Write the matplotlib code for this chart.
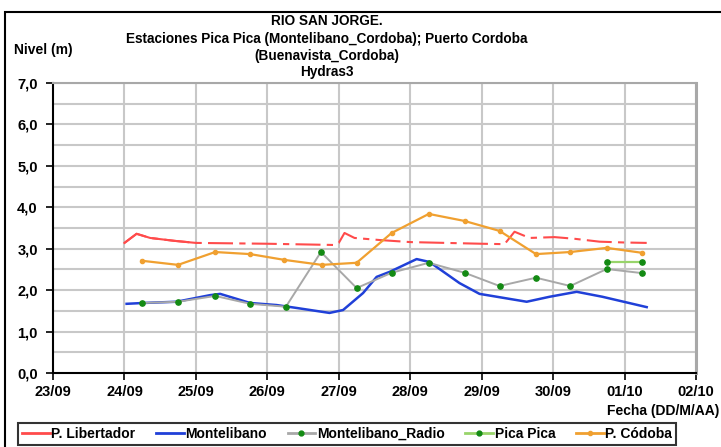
import numpy as np
from matplotlib import pyplot as plt
from matplotlib.lines import Line2D
from matplotlib.patches import Rectangle

plt.rcParams['font.family'] = ['Liberation Sans', 'DejaVu Sans']
plt.rcParams['font.weight'] = 'bold'

# dias desde 23/09
fechas = ["23/09", "24/09", "25/09", "26/09", "27/09", "28/09", "29/09", "30/09", "01/10", "02/10"]

# P. Libertador (rojo)
lib_x = [1.00, 1.17, 1.36, 1.70, 2.00, 3.00, 3.94, 4.00, 4.08, 4.22, 4.57, 5.00, 6.00, 6.32, 6.46, 6.67, 7.02, 7.30, 7.65, 8.00, 8.31]
lib_y = [3.14, 3.36, 3.26, 3.19, 3.14, 3.12, 3.09, 3.14, 3.38, 3.26, 3.21, 3.16, 3.12, 3.11, 3.41, 3.26, 3.28, 3.24, 3.17, 3.15, 3.14]

# Montelibano (azul)
mon_x = [1.03, 1.26, 1.73, 2.20, 2.34, 2.76, 3.13, 3.41, 3.87, 4.06, 4.34, 4.53, 4.71, 5.09, 5.27, 5.69, 5.97, 6.63, 6.95, 7.33, 7.69, 8.31]
mon_y = [1.67, 1.69, 1.72, 1.88, 1.91, 1.69, 1.64, 1.57, 1.45, 1.52, 1.93, 2.32, 2.44, 2.75, 2.68, 2.17, 1.91, 1.72, 1.84, 1.96, 1.84, 1.59]

# Montelibano_Radio (gris)
rad_x = [1.24, 1.75, 2.27, 2.76, 3.26, 3.75, 4.25, 4.74, 5.26, 5.76, 6.25, 6.76, 7.24, 7.75, 8.25]
rad_y = [1.69, 1.72, 1.86, 1.67, 1.60, 2.92, 2.05, 2.42, 2.66, 2.42, 2.10, 2.30, 2.10, 2.51, 2.41]

# Pica Pica (verde)
pica_x = [7.75, 8.25]
pica_y = [2.68, 2.68]

# P. Cordoba (naranja)
cor_x = [1.24, 1.75, 2.27, 2.76, 3.24, 3.76, 4.25, 4.74, 5.26, 5.76, 6.25, 6.76, 7.24, 7.75, 8.25]
cor_y = [2.71, 2.61, 2.92, 2.87, 2.73, 2.61, 2.66, 3.38, 3.84, 3.67, 3.43, 2.87, 2.92, 3.02, 2.90]

rojo = "#ff4b4b"
azul = "#2040d8"
gris = "#a8a8a8"
verde = "#138a13"
verde_cl = "#98d46a"
naranja = "#f0a030"

fig = plt.figure(figsize=(7.21, 4.47), dpi=100)
ax = fig.add_axes([53/721, 1-373/447, 643/721, 290/447])

# grilla
for d in range(1, 10):
    ax.axvline(d, color="#c8c8c8", lw=1.5, zorder=0)
for v in np.arange(0.5, 7.01, 0.5):
    ax.axhline(v, color="#c8c8c8", lw=1.5, zorder=0)

lx = np.array(lib_x)
ly = np.array(lib_y)
ax.plot(lx, ly, color=rojo, lw=1.5, ls=(0, (12, 3, 3, 3)), zorder=3)
m = lx <= 2.0
ax.plot(lx[m], ly[m], color=rojo, lw=1.5, zorder=3)
ax.plot(mon_x, mon_y, color=azul, lw=1.8, zorder=4)
ax.plot(rad_x, rad_y, color=gris, lw=1.4, marker="o", ms=3.8, mfc=verde, mec=verde, zorder=4)
ax.plot(pica_x, pica_y, color=verde_cl, lw=1.6, marker="o", ms=3.8, mfc=verde, mec=verde, zorder=4)
ax.plot(cor_x, cor_y, color=naranja, lw=1.6, marker="o", ms=3, mfc=naranja, mec=naranja, zorder=4)

ax.set_xlim(0, 9)
ax.set_ylim(0, 7)
ax.set_xticks(range(10))
ax.set_xticklabels(fechas)
ax.set_yticks(range(8))
ax.set_yticklabels([f"{v},0" for v in range(8)])
ax.tick_params(axis="both", labelsize=10.5, length=5, width=1.2, direction="out")
ax.tick_params(axis="y", pad=6)
ax.tick_params(axis="x", pad=4)
for t in ax.get_xticklabels() + ax.get_yticklabels():
    t.set_fontweight("bold")
ax.spines["left"].set_linewidth(1.5)
ax.spines["bottom"].set_linewidth(1.5)
ax.spines["top"].set_color("#a8a8a8")
ax.spines["top"].set_linewidth(1.5)
ax.spines["right"].set_color("#a8a8a8")
ax.spines["right"].set_linewidth(2.2)

# titulos
cx = 327/721
fs_t = 9.8
fig.text(cx, 1-21/447, "RIO SAN JORGE.", ha="center", va="center", fontsize=fs_t, fontweight="bold")
fig.text(cx, 1-39/447, "Estaciones Pica Pica (Montelibano_Cordoba); Puerto Cordoba", ha="center", va="center", fontsize=fs_t, fontweight="bold")
fig.text(cx, 1-56/447, "(Buenavista_Cordoba)", ha="center", va="center", fontsize=fs_t, fontweight="bold")
fig.text(cx, 1-72/447, "Hydras3", ha="center", va="center", fontsize=fs_t, fontweight="bold")
fig.text(14/721, 1-50/447, "Nivel (m)", ha="left", va="center", fontsize=10, fontweight="bold")
fig.text(719/721, 1-411/447, "Fecha (DD/M/AA)", ha="right", va="center", fontsize=10, fontweight="bold")

# marco exterior
fig.patches.append(Rectangle((5/721, -0.1), 1.2, 1-12/447+0.1, transform=fig.transFigure,
                             fill=False, ec="black", lw=1.5))

handles = [
    Line2D([], [], color=rojo, lw=2),
    Line2D([], [], color=azul, lw=2),
    Line2D([], [], color=gris, lw=2, marker="o", ms=3.5, mfc=verde, mec=verde),
    Line2D([], [], color=verde_cl, lw=2, marker="o", ms=3.5, mfc=verde, mec=verde),
    Line2D([], [], color=naranja, lw=2, marker="o", ms=3, mfc=naranja, mec=naranja),
]
labels = ["P. Libertador", "Montelibano", "Montelibano_Radio", "Pica Pica", "P. Códoba"]
leg = fig.legend(handles, labels, loc="center", bbox_to_anchor=(347/721, 1-434/447), ncol=5,
                 fontsize=10, frameon=True, fancybox=False, edgecolor="black",
                 handlelength=2.0, handletextpad=0.1, columnspacing=1.5, borderpad=0.3)
leg.get_frame().set_linewidth(1.5)
for t in leg.get_texts():
    t.set_fontweight("bold")

fig.savefig("out.png", dpi=100)
